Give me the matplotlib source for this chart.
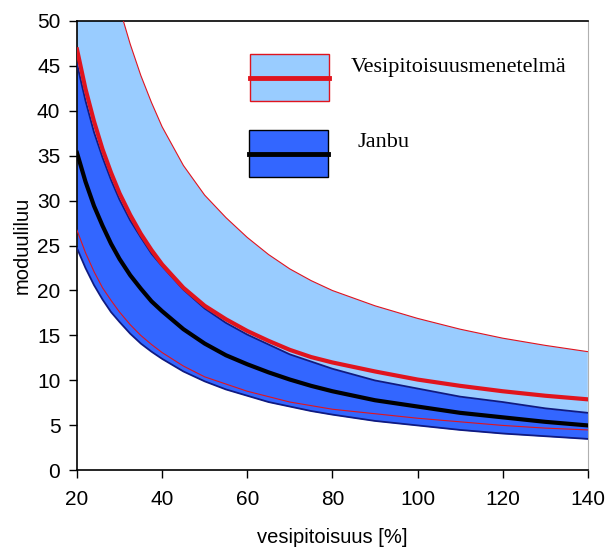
import matplotlib
matplotlib.use("Agg")

import matplotlib.pyplot as plt
from matplotlib.patches import Rectangle

plt.rcParams["font.family"] = ["Liberation Sans", "DejaVu Sans"]

# water content [%]
w = [20, 22, 24, 26, 28, 30, 32.5, 35, 37.5, 40, 45, 50, 55, 60, 65, 70, 75, 80, 90, 100, 110, 120, 130, 140]

# Vesipitoisuusmenetelmä: mean and band limits
vesi_mean = [46.8, 42.4, 38.8, 35.7, 33.1, 30.8, 28.4, 26.3, 24.5, 22.9, 20.3, 18.3, 16.8, 15.5, 14.4, 13.4,
             12.6, 12.0, 11.0, 10.1, 9.4, 8.8, 8.3, 7.9]
vesi_high = [78.2, 70.8, 64.8, 59.6, 55.3, 51.4, 47.4, 43.9, 40.9, 38.2, 33.9, 30.6, 28.1, 25.9, 24.0, 22.4,
             21.1, 20.0, 18.3, 16.9, 15.7, 14.7, 13.9, 13.2]
vesi_low = [26.7, 24.2, 22.1, 20.3, 18.9, 17.6, 16.2, 15.0, 14.0, 13.1, 11.6, 10.4, 9.6, 8.8, 8.2, 7.6,
            7.2, 6.8, 6.3, 5.8, 5.4, 5.0, 4.7, 4.5]

# Janbu: mean and band limits
janbu_mean = [35.3, 32.1, 29.4, 27.2, 25.2, 23.5, 21.7, 20.2, 18.8, 17.7, 15.7, 14.1, 12.8, 11.8, 10.9, 10.1,
              9.4, 8.8, 7.8, 7.1, 6.4, 5.9, 5.4, 5.0]
janbu_high = [45.2, 41.1, 37.6, 34.8, 32.3, 30.1, 27.8, 25.9, 24.1, 22.7, 20.1, 18.0, 16.4, 15.1, 14.0, 12.9,
              12.1, 11.3, 10.0, 9.1, 8.2, 7.6, 6.9, 6.4]
janbu_low = [24.7, 22.5, 20.6, 19.0, 17.6, 16.5, 15.2, 14.1, 13.2, 12.4, 11.0, 9.9, 9.0, 8.3, 7.6, 7.1,
             6.6, 6.2, 5.5, 5.0, 4.5, 4.1, 3.8, 3.5]

light_blue = "#99ccff"
dark_blue = "#3366ff"
red = "#e0141e"
navy = "#101a80"

fig = plt.figure(figsize=(6.11, 5.58), dpi=100)
ax = fig.add_axes([0.126, 0.157, 0.836, 0.806])

ax.fill_between(w, vesi_low, vesi_high, color=light_blue, lw=0, zorder=1)
ax.fill_between(w, janbu_low, janbu_high, color=dark_blue, lw=0, zorder=2)
ax.plot(w, janbu_high, color=navy, lw=1.3, zorder=3)
ax.plot(w, janbu_low, color=navy, lw=1.3, zorder=3)
ax.plot(w, vesi_high, color=red, lw=0.8, zorder=4)
ax.plot(w, vesi_low, color=red, lw=0.8, zorder=4)
ax.plot(w, vesi_mean, color=red, lw=3, zorder=5)
ax.plot(w, janbu_mean, color="black", lw=3, zorder=5)

ax.set_xlim(20, 140)
ax.set_ylim(0, 50)
ax.set_xticks(range(20, 141, 20))
ax.set_yticks(range(0, 51, 5))
ax.tick_params(direction="out", length=6, width=1, labelsize=15)
ax.tick_params(axis="y", pad=6)
ax.tick_params(axis="x", pad=8)
ax.spines["right"].set_color("#b0b0b0")
for s in ["left", "bottom", "top"]:
    ax.spines[s].set_linewidth(1.2)

ax.set_xlabel("vesipitoisuus [%]", fontsize=14.5, labelpad=14)
ax.set_ylabel("moduuliluu", fontsize=14.5, labelpad=4)

# legend drawn by hand, like in the original figure
ax.add_patch(Rectangle((0.339, 0.821), 0.155, 0.105, transform=ax.transAxes,
                       facecolor=light_blue, edgecolor=red, lw=1, zorder=6))
ax.plot([0.339, 0.494], [0.8735, 0.8735], transform=ax.transAxes, color=red, lw=3.5, zorder=7)
ax.add_patch(Rectangle((0.337, 0.652), 0.155, 0.105, transform=ax.transAxes,
                       facecolor=dark_blue, edgecolor="black", lw=1, zorder=6))
ax.plot([0.337, 0.492], [0.7045, 0.7045], transform=ax.transAxes, color="black", lw=3.5, zorder=7)
ax.text(0.535, 0.895, "Vesipitoisuusmenetelmä", transform=ax.transAxes, fontsize=16,
        family=["Liberation Serif", "DejaVu Serif"], va="center", ha="left")
ax.text(0.550, 0.728, "Janbu", transform=ax.transAxes, fontsize=16,
        family=["Liberation Serif", "DejaVu Serif"], va="center", ha="left")

plt.savefig("out.png")
plt.close()
